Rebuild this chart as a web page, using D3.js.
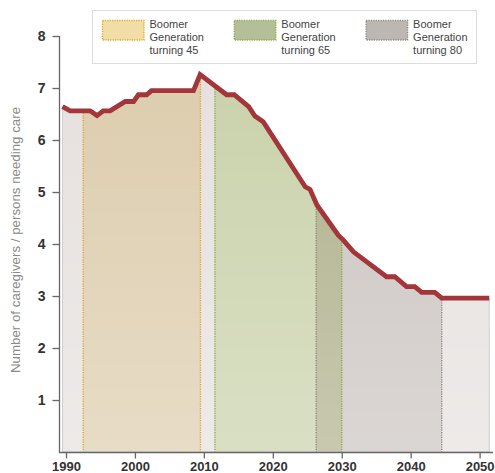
<!DOCTYPE html>
<html>
<head>
<meta charset="utf-8">
<script src="https://cdn.jsdelivr.net/npm/d3@7"></script>
<style>
  html, body { margin: 0; padding: 0; background: #fff; }
  svg { display: block; font-family: "Liberation Sans", Arial, sans-serif; }
</style>
</head>
<body>
<svg id="chart" width="495" height="473"></svg>
<script>
// ---- data ----
const years = [1989.5, 1990.6, 1993.5, 1994.5, 1995.4, 1996.4, 1998.6, 1999.8, 2000.5, 2001.7, 2002.4, 2008.5, 2009.45, 2013.3, 2014.4, 2016.5, 2017.4, 2018.6, 2024.7, 2025.4, 2026.4, 2029.5, 2030.2, 2031.7, 2036.5, 2037.7, 2039.4, 2040.6, 2041.6, 2043.5, 2044.5, 2051.4];
const ratio = [6.64, 6.56, 6.56, 6.47, 6.56, 6.56, 6.74, 6.74, 6.87, 6.87, 6.95, 6.95, 7.26, 6.87, 6.87, 6.64, 6.46, 6.35, 5.10, 5.05, 4.75, 4.17, 4.08, 3.85, 3.37, 3.37, 3.18, 3.18, 3.07, 3.07, 2.96, 2.96];

const periodNames = ["Boomer Generation turning 45", "Boomer Generation turning 65", "Boomer Generation turning 80"];
const periodStart = [1992.5, 2011.6, 2026.3];
const periodEnd = [2009.5, 2030.0, 2044.5];

const xTicks = [1990, 2000, 2010, 2020, 2030, 2040, 2050];
const yTicks = [1, 2, 3, 4, 5, 6, 7, 8];
const yLabel = "Number of caregivers / persons needing care";

// ---- styles ----
const periodFill = ["#ddcdae", "#cad2ab", "#cbc5c1"];
const periodBorder = ["#e0a52a", "#8aac40", "#8a8682"];
const legendFill = ["#f1dda6", "#b4be98", "#bcb7b3"];
const overlapFill = "#b0b18d";
const baseFill = "#e6e1df";

const svg = d3.select("#chart");
const x = d3.scaleLinear().domain([1990, 2050]).range([66, 479.6]);
const y = d3.scaleLinear().domain([0, 8]).range([452, 36]);

const pts = years.map((d, i) => ({ x: d, v: ratio[i] }));
const x0 = years[0], x1 = years[years.length - 1];

const defs = svg.append("defs");
const area = d3.area().x(d => x(d.x)).y0(y(0)).y1(d => y(d.v));
defs.append("clipPath").attr("id", "areaClip").append("path").attr("d", area(pts));
const grad = defs.append("linearGradient").attr("id", "fade")
  .attr("x1", 0).attr("x2", 0)
  .attr("gradientUnits", "userSpaceOnUse")
  .attr("y1", y(7.3)).attr("y2", y(0));
grad.append("stop").attr("offset", 0).attr("stop-color", "#fff").attr("stop-opacity", 0);
grad.append("stop").attr("offset", 1).attr("stop-color", "#fff").attr("stop-opacity", 0.3);

const g = svg.append("g").attr("clip-path", "url(#areaClip)");
g.append("rect").attr("x", x(x0)).attr("width", x(x1) - x(x0))
  .attr("y", y(8)).attr("height", y(0) - y(8)).attr("fill", baseFill);
periodStart.forEach((s, i) => {
  g.append("rect").attr("x", x(s)).attr("width", x(periodEnd[i]) - x(s))
    .attr("y", y(8)).attr("height", y(0) - y(8)).attr("fill", periodFill[i]);
});
// overlap of turning 65 and turning 80
g.append("rect").attr("x", x(periodStart[2])).attr("width", x(periodEnd[1]) - x(periodStart[2]))
  .attr("y", y(8)).attr("height", y(0) - y(8)).attr("fill", overlapFill);
g.append("rect").attr("x", x(x0)).attr("width", x(x1) - x(x0))
  .attr("y", y(8)).attr("height", y(0) - y(8)).attr("fill", "url(#fade)");
// dotted borders
periodStart.forEach((s, i) => {
  [s, periodEnd[i]].forEach(b => {
    g.append("line").attr("x1", x(b)).attr("x2", x(b)).attr("y1", y(8)).attr("y2", y(0))
      .attr("stroke", periodBorder[i]).attr("stroke-width", 1.4).attr("stroke-dasharray", "1.2,1.2");
  });
});
// area outline (light frame)
svg.append("path").attr("d", area(pts)).attr("fill", "none").attr("stroke", "#cfcdcb").attr("stroke-width", 1);

// line
svg.append("path").datum(pts)
  .attr("d", d3.line().x(d => x(d.x)).y(d => y(d.v)))
  .attr("fill", "none").attr("stroke", "#a2363a").attr("stroke-width", 4.8)
  .attr("stroke-linejoin", "miter");

// y axis
const yAxis = svg.append("g").attr("transform", "translate(59.5,0)")
  .call(d3.axisLeft(y).tickValues(yTicks).tickSize(7).tickSizeOuter(0).tickPadding(7));
yAxis.select(".domain").attr("stroke", "#666").attr("stroke-width", 1.3).attr("d", `M0,${y(8)}V${y(0) + 1}`);
yAxis.selectAll(".tick line").attr("stroke", "#666").attr("stroke-width", 1.3);
yAxis.selectAll(".tick text").attr("fill", "#333").attr("font-size", 14).attr("font-weight", "bold")
  .attr("font-family", "Liberation Sans, Arial, sans-serif");

// x axis
const xAxis = svg.append("g").attr("transform", `translate(0,${y(0) + 0.5})`)
  .call(d3.axisBottom(x).tickValues(xTicks).tickFormat(d3.format("d")).tickSize(6).tickSizeOuter(0).tickPadding(3));
xAxis.select(".domain").attr("stroke", "#666").attr("stroke-width", 1.3).attr("d", "M59,0H493");
xAxis.selectAll(".tick line").attr("stroke", "#666").attr("stroke-width", 1.3);
xAxis.selectAll(".tick text").attr("fill", "#333").attr("font-size", 13).attr("font-weight", "bold")
  .attr("font-family", "Liberation Sans, Arial, sans-serif");

// y label
svg.append("text").attr("transform", "translate(20,240) rotate(-90)")
  .attr("text-anchor", "middle").attr("fill", "#8a8a8a").attr("font-size", 13.3)
  .text(yLabel);

// legend
const leg = svg.append("g");
leg.append("rect").attr("x", 92.5).attr("y", 10.5).attr("width", 384).attr("height", 53)
  .attr("fill", "#fff").attr("stroke", "#dcdcdc").attr("stroke-width", 1);
periodNames.forEach((name, i) => {
  const lx = 102.5 + i * 131.8;
  leg.append("rect").attr("x", lx).attr("y", 20.5).attr("width", 41.5).attr("height", 19.5)
    .attr("fill", legendFill[i]).attr("stroke", periodBorder[i]).attr("stroke-width", 1.4)
    .attr("stroke-dasharray", "1.2,1.2");
  const words = ["Boomer", "Generation", name.replace("Boomer Generation ", "")];
  const t = leg.append("text").attr("x", lx + 47).attr("y", 27.5).attr("font-size", 11).attr("fill", "#444");
  words.forEach((w, j) => t.append("tspan").attr("x", lx + 47).attr("dy", j === 0 ? 0 : 13.4).text(w));
});
</script>
</body>
</html>
